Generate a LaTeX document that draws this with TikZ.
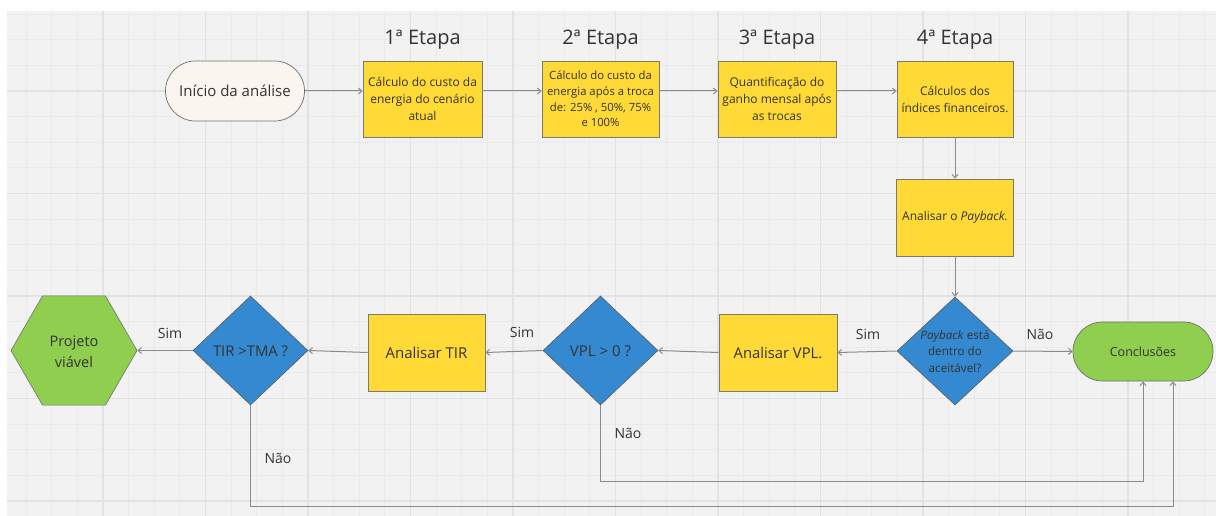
\documentclass[tikz,border=0pt]{standalone}
\usepackage{fontspec}
\setmainfont{Open Sans}
\usetikzlibrary{shapes.geometric,arrows.meta,calc}
\definecolor{bgc}{HTML}{F2F2F2}
\definecolor{gridminor}{HTML}{EAEAEA}
\definecolor{gridmajor}{HTML}{E2E2E2}
\definecolor{yel}{HTML}{FFD935}
\definecolor{blu}{HTML}{3589D0}
\definecolor{grn}{HTML}{8FCE4F}
\definecolor{crm}{HTML}{FAF6EF}
\definecolor{txt}{HTML}{333333}
\definecolor{lin}{HTML}{8A8A8A}
\definecolor{bord}{HTML}{7A7A70}
\newcommand{\fs}[2]{\fontsize{#1}{#2}\selectfont}
\begin{document}
\begin{tikzpicture}[x=1pt,y=-1pt,
  every node/.style={text=txt},
  ybox/.style={draw=bord, line width=0.8pt, fill=yel, inner sep=0pt, align=center},
  dia/.style={diamond, draw=txt!80, line width=0.6pt, fill=blu, inner sep=0pt, minimum width=116pt, minimum height=108pt},
  stad/.style={draw=txt!70, line width=0.7pt, inner sep=0pt, align=center},
  head/.style={font=\fs{20}{24}},
  lbl/.style={font=\fs{14}{17}},
  arr/.style={draw=lin, line width=1pt, -{Straight Barb[length=3.5pt,width=6pt]}},
  ]
\useasboundingbox (0,0) rectangle (1216,516);
\fill[white] (0,0) rectangle (1216,516);
\fill[bgc] (7,11) rectangle (1216,516);
\foreach \i in {0,...,46} {\draw[gridminor, line width=0.8pt] ({26.1+25.625*\i},11) -- ({26.1+25.625*\i},516);}
\foreach \j in {0,...,19} {\draw[gridminor, line width=0.8pt] (7,{14.1+25.625*\j}) -- (1216,{14.1+25.625*\j});}
\foreach \i in {0,...,10} {\draw[gridmajor, line width=1.3pt] ({103+102.5*\i},11) -- ({103+102.5*\i},516);}
\foreach \j in {0,...,4} {\draw[gridmajor, line width=1.3pt] (7,{91+102.5*\j}) -- (1216,{91+102.5*\j});}

% headings
\node[head] (h1) at (422.5,40) {1ª Etapa};
\node[head] (h2) at (600.5,40) {2ª Etapa};
\node[head] (h3) at (777,40) {3ª Etapa};
\node[head] (h4) at (955,40) {4ª Etapa};

% top row
\node[stad, fill=crm, minimum width=139pt, minimum height=60pt, rounded corners=29.9pt, font=\fs{15}{18}] (ini) at (235,91) {Início da análise};
\node[ybox, minimum width=119pt, minimum height=76pt, font=\fs{12}{17}] (b1) at (422.5,99) {Cálculo do custo da\\energia do cenário\\atual};
\node[ybox, minimum width=117pt, minimum height=76pt, font=\fs{11.3}{15.7}] (b2) at (600.5,99) {Cálculo do custo da\\energia após a troca\\de: 25\% , 50\%, 75\%\\e 100\%};
\node[ybox, minimum width=118pt, minimum height=76pt, font=\fs{12}{17}] (b3) at (777,99) {Quantificação do\\ganho mensal após\\as trocas};
\node[ybox, minimum width=116pt, minimum height=76pt, font=\fs{12}{17}] (b4) at (955,99) {Cálculos dos\\índices financeiros.};
\node[ybox, minimum width=117pt, minimum height=77pt, font=\fs{12}{17}] (b5) at (955,217.5) {Analisar o \textit{Payback.}};

% bottom row
\node[dia] (dp) at (955,351) {};
\node[align=center, font=\fs{11.7}{16.7}] (dpt) at (955,351.5) {\textit{Payback} está\\dentro do\\aceitável?};
\node[stad, fill=grn, minimum width=140pt, minimum height=59pt, rounded corners=29.4pt, font=\fs{12.5}{15}] (conc) at (1143,351.5) {Conclusões};
\node[ybox, minimum width=118pt, minimum height=77pt, font=\fs{14.8}{17}] (vpl) at (778,352.5) {Analisar VPL.};
\node[dia, minimum width=115pt, minimum height=109pt] (dv) at (600.5,350.5) {};
\node[font=\fs{15}{17}] (dvt) at (600.5,351) {VPL > 0 ?};
\node[ybox, minimum width=117pt, minimum height=77pt, font=\fs{15}{17}] (tir) at (426.5,352.5) {Analisar TIR};
\node[dia, minimum width=115pt, minimum height=109pt] (dt) at (250.5,350.5) {};
\node[font=\fs{14.8}{17}] (dtt) at (250.5,351) {TIR >TMA ?};
\node[regular polygon, regular polygon sides=6, draw=txt!70, line width=0.6pt, fill=grn, inner sep=0pt, minimum size=126pt] (hex) at (74,350.5) {};
\node[align=center, font=\fs{14.5}{21}] (hext) at (74,351.5) {Projeto\\viável};

% connectors
\draw[arr] (ini.east) -- (ini.east -| b1.west);
\draw[arr] (ini.east -| b1.east) -- (ini.east -| b2.west);
\draw[arr] (ini.east -| b2.east) -- (ini.east -| b3.west);
\draw[arr] (ini.east -| b3.east) -- (ini.east -| b4.west);
\draw[arr] (b4.south) -- (b5.north);
\draw[arr] (b5.south) -- (dp.north);
\draw[arr] (dp.east) -- (conc.west);
\draw[arr] (dp.west) -- (vpl.east);
\draw[arr] (vpl.west) -- (dv.east);
\draw[arr] (dv.west) -- (tir.east);
\draw[arr] (tir.west) -- (dt.east);
\draw[arr] (dt.west) -- (hex.east);
\draw[arr] (dv.south) -- ++(0,76) -| (conc.south);
\draw[arr] (dt.south) -- ++(0,101) -| ($(conc.south)+(30,0)$);

% labels
\node[lbl] (l1) at (1040,334) {Não};
\node[lbl] (l2) at (868,334) {Sim};
\node[lbl] (l3) at (522,332) {Sim};
\node[lbl] (l4) at (170,333) {Sim};
\node[lbl] (l5) at (628,433) {Não};
\node[lbl] (l6) at (278,458) {Não};
\end{tikzpicture}
\end{document}
